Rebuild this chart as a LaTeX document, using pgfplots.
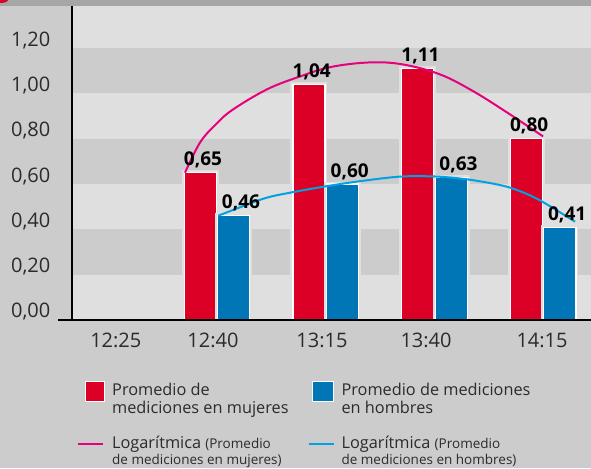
\documentclass[border=0pt]{standalone}
\usepackage{fontspec}
\setmainfont{Open Sans}
\usepackage{pgfplots}
\pgfplotsset{compat=1.18}
\definecolor{bgray}{HTML}{CCCCCC}
\definecolor{lgray}{HTML}{DFDFDF}
\definecolor{tgray}{HTML}{A6A6A6}
\definecolor{barred}{HTML}{DC0027}
\definecolor{barblue}{HTML}{0076B6}
\definecolor{pinkl}{HTML}{E5007D}
\definecolor{bluel}{HTML}{00A2E1}
\definecolor{tickgray}{HTML}{2B2B2B}
\begin{document}
\begin{tikzpicture}
\fill[bgray] (0pt,0pt) rectangle (591pt,468pt);
\begin{axis}[
  at={(72pt,148pt)}, anchor=south west,
  width=519pt, height=314pt, scale only axis,
  xmin=-0.333, xmax=4.44, ymin=0, ymax=1.386,
  axis on top,
  axis x line=bottom, axis y line=left,
  axis line style={black, line width=2pt, -},
  xtick={0.07,0.963,1.966,2.923,3.99},
  xticklabels={12:25,12:40,13:15,13:40,14:15},
  xtick style={draw=none},
  extra x ticks={0.5,1.5,2.5,3.5},
  extra x tick labels={},
  extra x tick style={tick style={draw=black, line width=1.5pt}, major tick length=4pt, tick align=inside},
  ytick={0,0.2,0.4,0.6,0.8,1,1.2},
  yticklabels={{0,00},{0,20},{0,40},{0,60},{0,80},{1,00},{1,20}},
  ytick style={draw=none},
  ticklabel style={font=\fontsize{20}{22}\selectfont, text=tickgray},
  yticklabel style={anchor=base east, xshift=-16pt, yshift=2pt},
  xticklabel style={yshift=-7pt},
  legend columns=2,
  legend style={at={(axis description cs:0.01,-0.195)}, anchor=north west,
    draw=none, fill=none, inner sep=0pt, outer sep=0pt,
    row sep=0pt, column sep=0pt,
    cells={anchor=base west, inner sep=0pt},
    font=\fontsize{16.3}{16}\selectfont, text=tickgray,
    /tikz/column 1/.style={column sep=6pt},
    /tikz/column 2/.style={column sep=17pt},
    /tikz/column 3/.style={column sep=5pt}},
]
\fill[lgray] (rel axis cs:0,0) rectangle (rel axis cs:1,1);
\fill[bgray] (axis cs:-0.333,0.2) rectangle (axis cs:4.44,0.4);
\fill[bgray] (axis cs:-0.333,0.6) rectangle (axis cs:4.44,0.8);
\fill[bgray] (axis cs:-0.333,1.0) rectangle (axis cs:4.44,1.2);

\addplot[ybar, bar width=0.295, bar shift=-0.154, fill=barred, draw=white, line width=1.2pt,
  preaction={draw=lgray, line width=5pt},
  point meta=explicit symbolic, nodes near coords,
  nodes near coords style={font=\fontsize{19}{20}\selectfont\bfseries, text=black, anchor=base, yshift=7pt, xshift=-14pt},
  forget plot]
  coordinates {(1,0.65) [0,65] (2,1.04) [1,04] (3,1.11) [1,11] (4,0.80) [0,80]};
\addplot[ybar, bar width=0.295, bar shift=0.154, fill=barblue, draw=white, line width=1.2pt,
  preaction={draw=lgray, line width=5pt},
  point meta=explicit symbolic, nodes near coords,
  nodes near coords style={font=\fontsize{19}{20}\selectfont\bfseries, text=black, anchor=base, yshift=7pt, xshift=24pt},
  forget plot]
  coordinates {(1,0.46) [0,46] (2,0.60) [0,60] (3,0.63) [0,63] (4,0.41) [0,41]};

\addplot[pinkl, line width=2pt, smooth, tension=0.6, forget plot] coordinates {
  (0.706,0.650) (0.844,0.783) (0.997,0.867) (1.147,0.929) (1.460,1.018) (1.764,1.075)
  (2.050,1.117) (2.408,1.137) (2.711,1.128) (3.052,1.084) (3.356,1.010)
  (3.668,0.916) (4.000,0.810)};
\addplot[bluel, line width=2pt, smooth, forget plot] coordinates {
  (1.011,0.460) (1.425,0.535) (1.673,0.562) (1.976,0.588) (2.289,0.611)
  (2.684,0.633) (3.024,0.633) (3.328,0.619) (3.668,0.588) (3.944,0.535)
  (4.293,0.434)};

\addlegendimage{legend image code/.code={\path[draw=none] (0pt,0pt) -- (26pt,0pt); \draw[overlay, fill=barred, draw=white, line width=1pt] (7pt,-6pt) rectangle (26pt,14pt);}}
\addlegendentry{Promedio de}
\addlegendimage{legend image code/.code={\path[draw=none] (0pt,0pt) -- (25pt,0pt); \draw[overlay, fill=barblue, draw=white, line width=1pt] (4pt,-6pt) rectangle (25pt,14pt);}}
\addlegendentry{Promedio de mediciones}
\addlegendimage{empty legend}
\addlegendentry{mediciones en mujeres}
\addlegendimage{empty legend}
\addlegendentry{en hombres}
\addlegendimage{legend image code/.code={\draw[pinkl, line width=2pt] (0pt,4pt) -- (25pt,4pt);}}
\addlegendentry{\rule{0pt}{29pt}Logarítmica {\fontsize{13.5}{14}\selectfont (Promedio}}
\addlegendimage{legend image code/.code={\draw[bluel, line width=2pt] (0pt,4pt) -- (25pt,4pt);}}
\addlegendentry{\rule{0pt}{29pt}Logarítmica {\fontsize{13.5}{14}\selectfont (Promedio}}
\addlegendimage{empty legend}
\addlegendentry{\fontsize{13.5}{14}\selectfont\rule{0pt}{10.5pt}de mediciones en mujeres)}
\addlegendimage{empty legend}
\addlegendentry{\fontsize{13.5}{14}\selectfont\rule{0pt}{10.5pt}de mediciones en hombres)}
\end{axis}
\draw[black, line width=2pt] (58pt,148pt) -- (73pt,148pt);
\fill[tgray] (0pt,462pt) rectangle (591pt,468pt);
\fill[barred] (0pt,468pt) ellipse (8pt and 3pt);
\pgfresetboundingbox
\useasboundingbox (0pt,0pt) rectangle (591pt,468pt);
\end{tikzpicture}
\end{document}
